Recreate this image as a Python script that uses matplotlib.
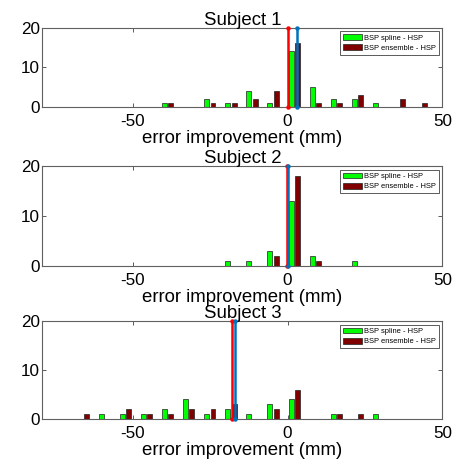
import matplotlib
matplotlib.use("Agg")
import matplotlib.pyplot as plt
from matplotlib.patches import Patch

plt.rcParams['font.family'] = ['Liberation Sans', 'DejaVu Sans']
plt.rcParams['axes.unicode_minus'] = False

bins = [-66.0, -59.2, -52.4, -45.6, -38.8, -31.9, -25.1, -18.3, -11.5, -4.7,
        2.2, 9.0, 15.8, 22.6, 29.4, 36.2, 43.1]

titles = ["Subject 1", "Subject 2", "Subject 3"]
spline_counts = [
    [0, 0, 0, 0, 1, 0, 2, 1, 4, 1, 14, 5, 2, 2, 1, 0, 0],
    [0, 0, 0, 0, 0, 0, 0, 1, 1, 3, 13, 2, 0, 1, 0, 0, 0],
    [0, 1, 1, 1, 2, 4, 1, 2, 1, 3, 4, 0, 1, 0, 1, 0, 0],
]
ensemble_counts = [
    [0, 0, 0, 0, 1, 0, 1, 1, 2, 4, 16, 1, 1, 3, 0, 2, 1],
    [0, 0, 0, 0, 0, 0, 0, 0, 0, 2, 18, 1, 0, 0, 0, 0, 0],
    [1, 0, 2, 1, 1, 2, 2, 3, 0, 2, 6, 0, 1, 1, 0, 0, 0],
]
red_line_x = [0.1, -0.25, -17.8]
blue_line_x = [3.2, 0.05, -17.1]

legend_labels = ["BSP spline - HSP", "BSP ensemble - HSP"]
xlabel = "error improvement (mm)"
xticks = [-50, 0, 50]
yticks = [0, 10, 20]

GREEN = "#00FF00"
DARKRED = "#800000"
RED = "#FF0000"
BLUE = "#0072BD"

fig = plt.figure(figsize=(4.56, 4.59), dpi=100)
W, H = 456, 459
boxes = [(42.5, 27.5, 442.3, 107.0), (42.5, 166.0, 442.3, 265.7), (42.5, 321.0, 442.3, 419.0)]

fs_tick = 12.3
fs_lab = 13.4
bw = 1.6
off = 1.0
for i in range(3):
    x0, y0, x1, y1 = boxes[i]
    ax = fig.add_axes([x0 / W, 1 - y1 / H, (x1 - x0) / W, (y1 - y0) / H])
    xs_g = [b - off for b in bins]
    xs_r = [b + off for b in bins]
    ax.bar(xs_g, spline_counts[i], width=bw, color=GREEN, edgecolor="#202020", linewidth=0.5, zorder=2)
    ax.bar(xs_r, ensemble_counts[i], width=bw, color=DARKRED, edgecolor="#202020", linewidth=0.5, zorder=2)
    ax.plot([red_line_x[i]] * 2, [0, 20], color=RED, lw=1.8, marker='o', ms=2.2, clip_on=False, zorder=3)
    ax.plot([blue_line_x[i]] * 2, [0, 20], color=BLUE, lw=1.8, marker='o', ms=2.2, clip_on=False, zorder=4)
    ax.set_xlim(-79.2, 50)
    ax.set_ylim(0, 20)
    ax.set_xticks(xticks)
    ax.set_yticks(yticks)
    ax.tick_params(direction='in', length=3, width=0.6, top=True, right=True,
                   labelsize=fs_tick, color="#404040")
    ax.tick_params(axis='x', pad=5)
    ax.tick_params(axis='y', pad=1.7)
    for s in ax.spines.values():
        s.set_color("#606060")
        s.set_linewidth(0.8)
    ax.set_title(titles[i], fontsize=fs_lab, pad=2.0)
    ax.set_xlabel(xlabel, fontsize=fs_lab, labelpad=0.8)
    handles = [Patch(facecolor=GREEN, edgecolor="#202020", linewidth=0.5),
               Patch(facecolor=DARKRED, edgecolor="#202020", linewidth=0.5)]
    leg = ax.legend(handles, legend_labels, loc='upper right', fontsize=5.4,
                    fancybox=False, framealpha=1, edgecolor="#404040",
                    handlelength=2.6, handleheight=0.8, handletextpad=0.2,
                    borderaxespad=0.5, borderpad=0.4, labelspacing=0.35)
    leg.get_frame().set_linewidth(0.6)

fig.savefig("out.png", dpi=100)
